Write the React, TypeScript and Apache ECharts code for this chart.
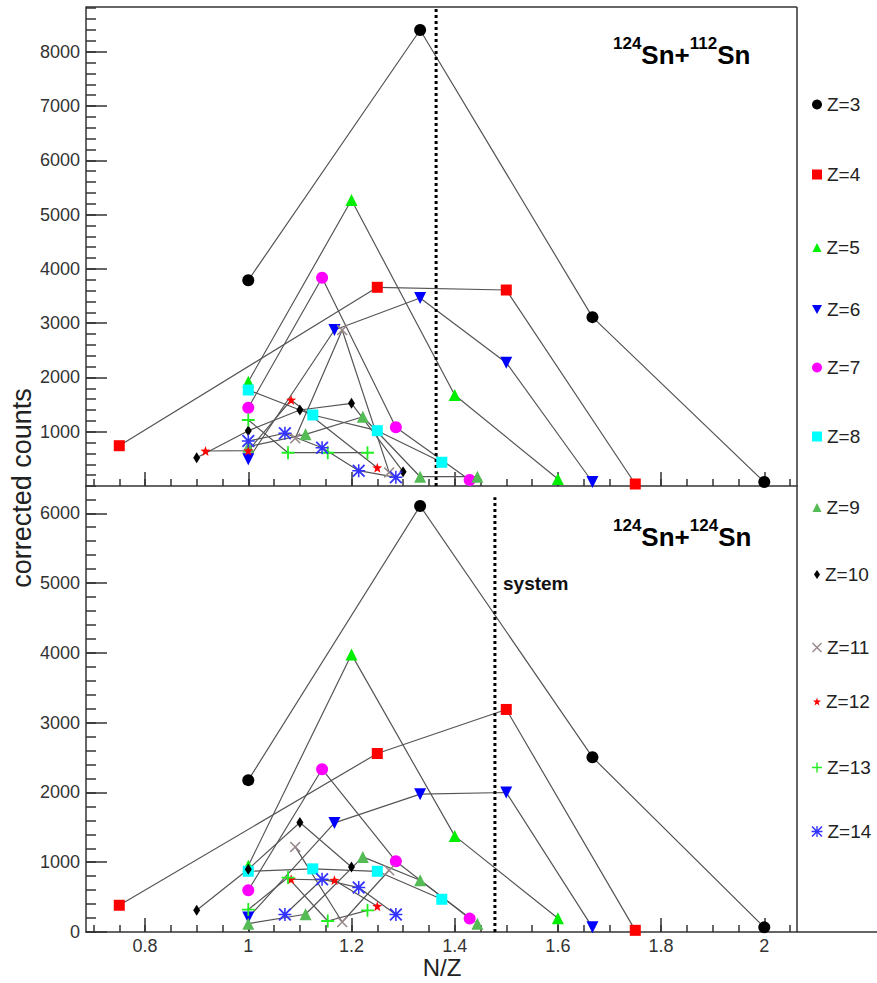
import React, { useEffect, useRef } from 'react';
import * as echarts from 'echarts';

const FONT = '"Liberation Sans", Arial, Helvetica, sans-serif';

// ---------- data (N/Z, corrected counts) ----------
const zLabels = ['Z=3', 'Z=4', 'Z=5', 'Z=6', 'Z=7', 'Z=8', 'Z=9', 'Z=10', 'Z=11', 'Z=12', 'Z=13', 'Z=14'];

const z3NZ = [1.0, 1.333, 1.667, 2.0];
const z3Top = [3790, 8400, 3110, 74];
const z3Bot = [2176, 6105, 2505, 67];

const z4NZ = [0.75, 1.25, 1.5, 1.75];
const z4Top = [742, 3660, 3610, 37];
const z4Bot = [383, 2558, 3189, 24];

const z5NZ = [1.0, 1.2, 1.4, 1.6];
const z5Top = [1921, 5268, 1676, 129];
const z5Bot = [950, 3978, 1377, 196];

const z6NZ = [1.0, 1.167, 1.333, 1.5, 1.667];
const z6Top = [492, 2873, 3463, 2271, 74];
const z6Bot = [207, 1563, 1975, 1999, 67];

const z7NZ = [1.0, 1.143, 1.286, 1.429];
const z7Top = [1442, 3837, 1081, 110];
const z7Bot = [598, 2333, 1014, 192];

const z8NZ = [1.0, 1.125, 1.25, 1.375];
const z8Top = [1768, 1308, 1019, 437];
const z8Bot = [870, 905, 870, 469];

const z9NZ = [1.0, 1.111, 1.222, 1.333, 1.444];
const z9Top = [724, 952, 1276, 171, 171];
const z9Bot = [120, 254, 1076, 741, 120];

const z10NZTop = [0.9, 1.0, 1.1, 1.2, 1.3];
const z10Top = [521, 1019, 1400, 1523, 263];
const z10NZBot = [0.9, 1.0, 1.1, 1.2];
const z10Bot = [311, 900, 1569, 932];

const z11NZTop = [1.091, 1.182, 1.273];
const z11Top = [879, 2873, 250];
const z11NZBot = [1.091, 1.182, 1.273];
const z11Bot = [1219, 143, 885];

const z12NZTop = [0.917, 1.0, 1.083, 1.25];
const z12Top = [645, 650, 1584, 337];
const z12NZBot = [1.083, 1.167, 1.25];
const z12Bot = [756, 743, 369];

const z13NZ = [1.0, 1.077, 1.154, 1.231];
const z13Top = [1216, 613, 613, 613];
const z13Bot = [321, 780, 158, 311];

const z14NZTop = [1.0, 1.071, 1.143, 1.214, 1.286];
const z14Top = [829, 971, 705, 282, 160];
const z14NZBot = [1.071, 1.143, 1.214, 1.286];
const z14Bot = [250, 756, 637, 250];

// system N/Z (vertical dotted lines): 124Sn+112Sn, 124Sn+124Sn
const systemNZ = [1.364, 1.478];

// ticks
const xMajorTicks = [0.8, 1, 1.2, 1.4, 1.6, 1.8, 2];
const yTopTicks = [1000, 2000, 3000, 4000, 5000, 6000, 7000, 8000];
const yBotTicks = [0, 1000, 2000, 3000, 4000, 5000, 6000];

// ---------- layout ----------
const X_MIN = 0.6855;
const X_MAX = 2.0634;
const Y_TOP_MAX = 8823;
const Y_BOT_MAX = 6391;
const LEFT = 86;
const RIGHT = 797;
const TOP = 7;
const MID = 486;
const BOTTOM = 932;
const legendY = [105, 175, 248, 310, 368, 437, 508, 575, 648, 702, 768, 832];

const range = (lo: number, hi: number, step: number) => {
  const out: number[] = [];
  for (let v = lo; v <= hi + 1e-9; v += step) out.push(+v.toFixed(4));
  return out;
};
const xMinor = range(0.7, 2.05, 0.05);
const yTopMinor = range(0, 8800, 200);
const yBotMinor = range(0, 6390, 200);

const P_INV = 'path://M0,0 L10,0 L5,9 Z';
const P_X = 'path://M0,1 L1,0 L10,9 L9,10 Z M9,0 L10,1 L1,10 L0,9 Z';
const P_STAR = 'path://M5,0 L6.2,3.6 L10,3.8 L7,6.1 L8.1,10 L5,7.7 L1.9,10 L3,6.1 L0,3.8 L3.8,3.6 Z';
const P_PLUS = 'path://M4.3,0 L5.7,0 L5.7,4.3 L10,4.3 L10,5.7 L5.7,5.7 L5.7,10 L4.3,10 L4.3,5.7 L0,5.7 L0,4.3 L4.3,4.3 Z';
const P_AST =
  'path://M0,1 L1,0 L10,9 L9,10 Z M9,0 L10,1 L1,10 L0,9 Z M4.4,0 L5.6,0 L5.6,4.4 L10,4.4 L10,5.6 L5.6,5.6 L5.6,10 L4.4,10 L4.4,5.6 L0,5.6 L0,4.4 L4.4,4.4 Z';

const defs: any[] = [
  { color: '#000000', symbol: 'circle', size: 12, lw: 10, lh: 10, nzT: z3NZ, top: z3Top, nzB: z3NZ, bot: z3Bot },
  { color: '#ff0000', symbol: 'rect', size: 11, lw: 10, lh: 10, nzT: z4NZ, top: z4Top, nzB: z4NZ, bot: z4Bot },
  { color: '#00ee00', symbol: 'triangle', size: 12, lw: 9, lh: 9, nzT: z5NZ, top: z5Top, nzB: z5NZ, bot: z5Bot },
  { color: '#0000ff', symbol: P_INV, size: 12, lw: 10, lh: 9, nzT: z6NZ, top: z6Top, nzB: z6NZ, bot: z6Bot },
  { color: '#ff00ff', symbol: 'circle', size: 12, lw: 10, lh: 10, nzT: z7NZ, top: z7Top, nzB: z7NZ, bot: z7Bot },
  { color: '#00ffff', symbol: 'rect', size: 11, lw: 10, lh: 10, nzT: z8NZ, top: z8Top, nzB: z8NZ, bot: z8Bot },
  { color: '#55bb55', symbol: 'triangle', size: 12, lw: 9, lh: 9, nzT: z9NZ, top: z9Top, nzB: z9NZ, bot: z9Bot },
  { color: '#000000', symbol: 'diamond', size: [7, 11], lw: 6, lh: 9, nzT: z10NZTop, top: z10Top, nzB: z10NZBot, bot: z10Bot },
  { color: '#998888', symbol: P_X, size: 11, lw: 10, lh: 10, nzT: z11NZTop, top: z11Top, nzB: z11NZBot, bot: z11Bot },
  { color: '#ff0000', symbol: P_STAR, size: 10, lw: 8, lh: 8, nzT: z12NZTop, top: z12Top, nzB: z12NZBot, bot: z12Bot },
  { color: '#22ee22', symbol: P_PLUS, size: 13, lw: 10, lh: 10, nzT: z13NZ, top: z13Top, nzB: z13NZ, bot: z13Bot },
  { color: '#3333ff', symbol: P_AST, size: 13, lw: 11, lh: 11, nzT: z14NZTop, top: z14Top, nzB: z14NZBot, bot: z14Bot },
];

const AX = '#333333';

function buildOption() {
  const series: any[] = [];
  defs.forEach((d, i) => {
    const base = {
      type: 'line',
      name: zLabels[i],
      symbol: d.symbol,
      symbolSize: d.size,
      itemStyle: { color: d.color },
      lineStyle: { color: '#555555', width: 1.2 },
      emphasis: { disabled: true },
    };
    series.push({ ...base, xAxisIndex: 0, yAxisIndex: 0, data: d.nzT.map((x: number, k: number) => [x, d.top[k]]) });
    series.push({ ...base, xAxisIndex: 2, yAxisIndex: 2, data: d.nzB.map((x: number, k: number) => [x, d.bot[k]]) });
  });
  const dashed = { type: [3, 3], width: 3, color: '#000000' };
  series.push({
    type: 'line', xAxisIndex: 0, yAxisIndex: 0, symbol: 'none', lineStyle: dashed, silent: true,
    data: [[systemNZ[0], 0], [systemNZ[0], Y_TOP_MAX]],
  });
  series.push({
    type: 'line', xAxisIndex: 2, yAxisIndex: 2, symbol: 'none', lineStyle: dashed, silent: true,
    data: [[systemNZ[1], 0], [systemNZ[1], Y_BOT_MAX * 0.975]],
  });

  const plain = (v: number) => String(v);

  const xAxisMain = (grid: number, showLabel: boolean) => ({
    type: 'value', gridIndex: grid, position: 'bottom', min: X_MIN, max: X_MAX,
    axisLine: { show: true, onZero: false, lineStyle: { color: AX, width: 1.5 } },
    axisTick: { show: true, inside: true, length: 14, customValues: xMajorTicks, lineStyle: { color: AX, width: 1.5 } },
    axisLabel: { show: showLabel, customValues: xMajorTicks, formatter: plain, fontSize: 18, color: '#333', fontFamily: FONT, margin: 5 },
    splitLine: { show: false },
  });
  const xAxisMinor = (grid: number) => ({
    type: 'value', gridIndex: grid, position: 'bottom', min: X_MIN, max: X_MAX,
    axisLine: { show: false, onZero: false },
    axisTick: { show: true, inside: true, length: 7, customValues: xMinor, lineStyle: { color: AX, width: 1.5 } },
    axisLabel: { show: false },
    splitLine: { show: false },
  });
  const yAxisMain = (grid: number, max: number, ticks: number[]) => ({
    type: 'value', gridIndex: grid, position: 'left', min: 0, max,
    axisLine: { show: true, onZero: false, lineStyle: { color: AX, width: 1.5 } },
    axisTick: { show: true, inside: true, length: 21, customValues: ticks, lineStyle: { color: AX, width: 1.5 } },
    axisLabel: { show: true, customValues: ticks, formatter: plain, fontSize: 18, color: '#333', fontFamily: FONT, margin: 6 },
    splitLine: { show: false },
  });
  const yAxisMinor = (grid: number, max: number, ticks: number[]) => ({
    type: 'value', gridIndex: grid, position: 'left', min: 0, max,
    axisLine: { show: false, onZero: false },
    axisTick: { show: true, inside: true, length: 10, customValues: ticks, lineStyle: { color: AX, width: 1.5 } },
    axisLabel: { show: false },
    splitLine: { show: false },
  });

  const legends = defs.map((d, i) => ({
    show: true,
    orient: 'vertical',
    left: 817 - d.lw / 2,
    top: legendY[i] - 10,
    padding: 0,
    itemGap: 0,
    itemWidth: d.lw,
    itemHeight: d.lh,
    selectedMode: false,
    data: [{ name: zLabels[i], icon: d.symbol }],
    textStyle: { fontSize: 19, color: '#222', fontFamily: FONT },
  }));

  const titleRich = {
    s: { fontSize: 17, fontWeight: 'bold', fontFamily: FONT, lineHeight: 17, verticalAlign: 'top', color: '#111' },
    b: { fontSize: 26, fontWeight: 'bold', fontFamily: FONT, lineHeight: 40, verticalAlign: 'middle', color: '#111' },
  };

  const ln = (x1: number, y1: number, x2: number, y2: number) => ({
    type: 'line', shape: { x1, y1, x2, y2 }, style: { stroke: AX, lineWidth: 1.5 }, silent: true,
  });

  return {
    animation: false,
    backgroundColor: '#ffffff',
    textStyle: { fontFamily: FONT },
    grid: [
      { left: LEFT, top: TOP, width: RIGHT - LEFT, height: MID - TOP, containLabel: false },
      { left: LEFT, top: MID, width: RIGHT - LEFT, height: BOTTOM - MID, containLabel: false },
    ],
    xAxis: [xAxisMain(0, false), xAxisMinor(0), xAxisMain(1, true), xAxisMinor(1)],
    yAxis: [
      yAxisMain(0, Y_TOP_MAX, yTopTicks), yAxisMinor(0, Y_TOP_MAX, yTopMinor),
      yAxisMain(1, Y_BOT_MAX, yBotTicks), yAxisMinor(1, Y_BOT_MAX, yBotMinor),
    ],
    legend: legends,
    series,
    graphic: [
      ln(LEFT, TOP, RIGHT, TOP),
      ln(RIGHT, TOP, RIGHT, BOTTOM),
      ln(RIGHT, BOTTOM, 877, BOTTOM),
      {
        type: 'text', x: 613, y: 55, silent: true,
        style: { text: '{s|124}{b|Sn+}{s|112}{b|Sn}', rich: titleRich, textVerticalAlign: 'middle' },
      },
      {
        type: 'text', x: 613, y: 537, silent: true,
        style: { text: '{s|124}{b|Sn+}{s|124}{b|Sn}', rich: titleRich, textVerticalAlign: 'middle' },
      },
      {
        type: 'text', x: 503, y: 583, silent: true,
        style: { text: 'system', fontSize: 19, fontWeight: 'bold', fontFamily: FONT, fill: '#111', textVerticalAlign: 'middle' },
      },
      {
        type: 'text', x: 442, y: 967, silent: true,
        style: { text: 'N/Z', fontSize: 24, fontFamily: FONT, fill: '#222', textAlign: 'center', textVerticalAlign: 'middle' },
      },
      {
        type: 'text', x: 22, y: 488, rotation: Math.PI / 2, silent: true,
        style: { text: 'corrected counts', fontSize: 27, fontFamily: FONT, fill: '#222', textAlign: 'center', textVerticalAlign: 'middle' },
      },
    ],
  };
}

export default function App() {
  const ref = useRef<HTMLDivElement>(null);
  useEffect(() => {
    if (!ref.current) return;
    const chart = echarts.init(ref.current, undefined, { renderer: 'svg' });
    chart.setOption(buildOption() as any);
    return () => chart.dispose();
  }, []);
  return (
    <div
      ref={ref}
      style={{ position: 'fixed', left: 0, top: 0, width: 877, height: 983, background: '#fff' }}
    />
  );
}
